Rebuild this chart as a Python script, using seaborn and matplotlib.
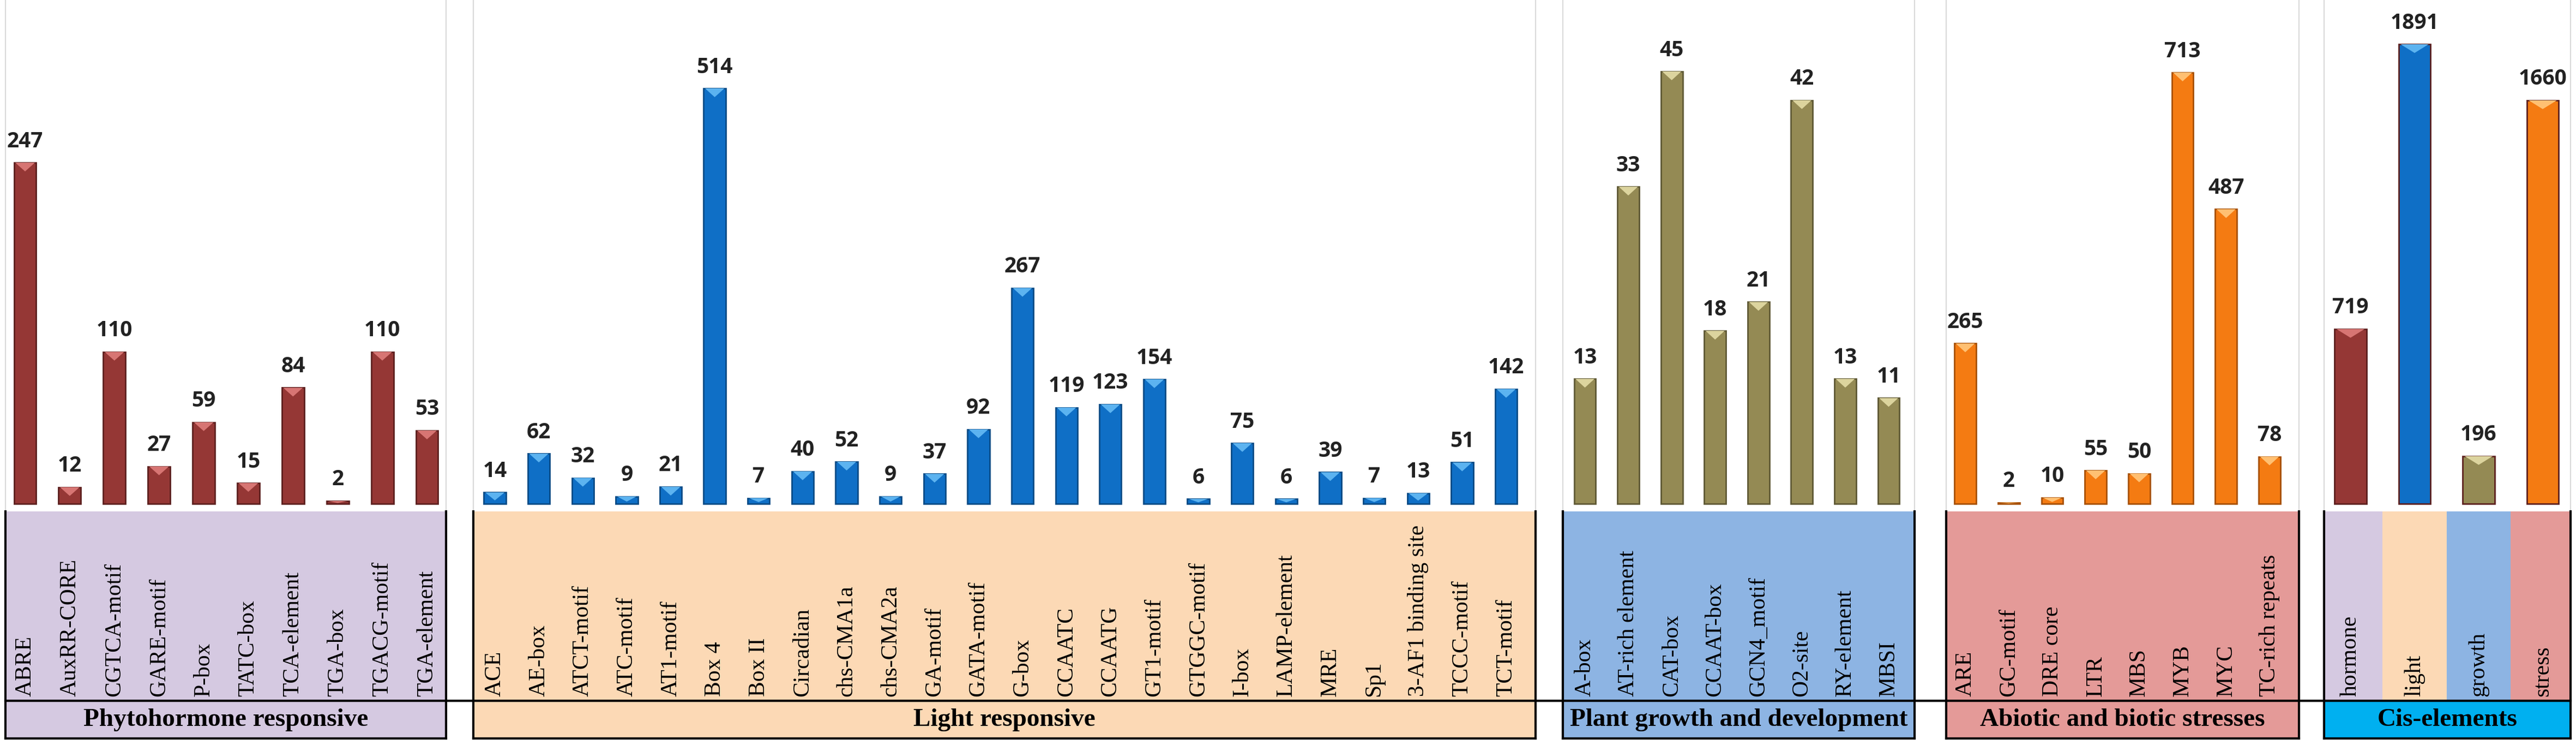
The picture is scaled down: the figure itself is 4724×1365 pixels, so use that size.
import numpy as np
import matplotlib.pyplot as plt
import seaborn as sns
import pandas as pd
from matplotlib.lines import Line2D

# ---- data ----
phyto_names = ['ABRE', 'AuxRR-CORE', 'CGTCA-motif', 'GARE-motif', 'P-box', 'TATC-box',
               'TCA-element', 'TGA-box', 'TGACG-motif', 'TGA-element']
phyto_counts = [247, 12, 110, 27, 59, 15, 84, 2, 110, 53]

light_names = ['ACE', 'AE-box', 'ATCT-motif', 'ATC-motif', 'AT1-motif', 'Box 4', 'Box II',
               'Circadian', 'chs-CMA1a', 'chs-CMA2a', 'GA-motif', 'GATA-motif', 'G-box',
               'CCAATC', 'CCAATG', 'GT1-motif', 'GTGGC-motif', 'I-box', 'LAMP-element',
               'MRE', 'Sp1', '3-AF1 binding site', 'TCCC-motif', 'TCT-motif']
light_counts = [14, 62, 32, 9, 21, 514, 7, 40, 52, 9, 37, 92, 267,
                119, 123, 154, 6, 75, 6, 39, 7, 13, 51, 142]

growth_names = ['A-box', 'AT-rich element', 'CAT-box', 'CCAAT-box', 'GCN4_motif',
                'O2-site', 'RY-element', 'MBSI']
growth_counts = [13, 33, 45, 18, 21, 42, 13, 11]

stress_names = ['ARE', 'GC-motif', 'DRE core', 'LTR', 'MBS', 'MYB', 'MYC', 'TC-rich repeats']
stress_counts = [265, 2, 10, 55, 50, 713, 487, 78]

cis_names = ['hormone', 'light', 'growth', 'stress']
cis_counts = [719, 1891, 196, 1660]

group_titles = ['Phytohormone responsive', 'Light responsive', 'Plant growth and development',
                'Abiotic and biotic stresses', 'Cis-elements']

# ---- styles / layout (pixels of a 4724x1365 canvas) ----
bar_cols = ['#953735', '#0f6fc6', '#948a54', '#f47b12']
edge_cols = ['#5c1f1e', '#0a4a85', '#5e5834', '#a64f06']
shine_cols = ['#d77573', '#5cb3f0', '#dcd49e', '#ffc072']
box_cols = ['#d5c9e1', '#fcd9b5', '#8db4e3', '#e49a98']
cis_title_col = '#00b0f0'

W, H = 4724, 1365
BASE, BOX_TOP, DIV, BOX_BOT = 923, 937, 1284, 1353

layout = [
    dict(box=(10, 818), centers=(46, 783), ytop=364.8),
    dict(box=(868, 2816), centers=(907.5, 2762), ytop=623.4),
    dict(box=(2866, 3511), centers=(2906.5, 3463.5), ytop=52.44),
    dict(box=(3569, 4216), centers=(3604, 4162), ytop=833),
    dict(box=(4262, 4714), centers=(4310.5, 4663), ytop=2073),
]

groups = [(phyto_names, phyto_counts), (light_names, light_counts),
          (growth_names, growth_counts), (stress_names, stress_counts),
          (cis_names, cis_counts)]

fig = plt.figure(figsize=(W / 100, H / 100), dpi=100)
fig.patch.set_facecolor('white')

div_frac = (BOX_BOT - DIV) / (BOX_BOT - BOX_TOP)

for k, ((names, counts), lay) in enumerate(zip(groups, layout)):
    n = len(names)
    bL, bR = lay['box']
    c0, c1 = lay['centers']
    step = (c1 - c0) / (n - 1)
    xlim = ((bL - c0) / step, (bR - c0) / step)

    # bars
    ax = fig.add_axes([bL / W, 1 - BOX_TOP / H, (bR - bL) / W, BOX_TOP / H])
    df = pd.DataFrame({'name': names, 'count': counts})
    if k < 4:
        sns.barplot(data=df, x='name', y='count', color=bar_cols[k], saturation=1,
                    width=0.5, edgecolor=edge_cols[k], linewidth=2, ax=ax)
        shine = [shine_cols[k]] * n
    else:
        sns.barplot(data=df, x='name', y='count', hue='name', palette=bar_cols,
                    saturation=1, width=0.5, edgecolor=edge_cols, linewidth=2,
                    legend=False, ax=ax)
        shine = shine_cols
    for c in ax.containers:
        ax.bar_label(c, padding=14, fontsize=28, fontweight='bold',
                     family='Open Sans', color='#222222')
    ytop = lay['ytop']
    ybot = -ytop * (BOX_TOP - BASE) / BASE
    ax.set_ylim(ybot, ytop)
    ax.set_xlim(*xlim)

    # small bevel highlight on top of each bar
    d_unit = 16 * (ytop - ybot) / BOX_TOP
    for p, sc in zip(list(ax.patches), shine):
        x0, w, h = p.get_x(), p.get_width(), p.get_height()
        d = min(d_unit, 0.7 * h)
        ax.fill([x0 + 0.06 * w, x0 + 0.94 * w, x0 + 0.5 * w],
                [h, h, h - d], color=sc, lw=0, zorder=3)

    ax.set_xlabel('')
    ax.set_ylabel('')
    ax.set_xticks([])
    ax.set_yticks([])
    for s in ['top', 'bottom']:
        ax.spines[s].set_visible(False)
    for s in ['left', 'right']:
        ax.spines[s].set_color('#d9d9d9')
        ax.spines[s].set_linewidth(1.5)
    ax.patch.set_alpha(0)

    # label box
    lab = fig.add_axes([bL / W, 1 - BOX_BOT / H, (bR - bL) / W, (BOX_BOT - BOX_TOP) / H])
    lab.set_xlim(*xlim)
    lab.set_ylim(0, 1)
    lab.set_xticks([])
    lab.set_yticks([])
    if k < 4:
        lab.set_facecolor(box_cols[k])
    else:
        for i in range(n):
            lab.axvspan(i - 0.5, i + 0.5, ymin=div_frac, ymax=1, color=box_cols[i], lw=0)
        lab.axhspan(0, div_frac, color=cis_title_col, lw=0)
    lab.spines['top'].set_visible(False)
    for s in ['left', 'right', 'bottom']:
        lab.spines[s].set_color('black')
        lab.spines[s].set_linewidth(3)
    tr = lab.get_xaxis_transform()
    for i, name in enumerate(names):
        lab.text(i, div_frac + 0.02, name, rotation=90, ha='center', va='bottom',
                 transform=tr, family='Liberation Serif', fontsize=30, color='black')
    lab.text(0.5, div_frac / 2, group_titles[k], ha='center', va='center',
             transform=lab.transAxes, family='Liberation Serif', fontweight='bold',
             fontsize=34, color='black')

# divider running across all label boxes
fig.add_artist(Line2D([10 / W, 4714 / W], [1 - DIV / H, 1 - DIV / H],
                      transform=fig.transFigure, color='black', lw=3))

fig.savefig('out.png', dpi=100, facecolor='white')
